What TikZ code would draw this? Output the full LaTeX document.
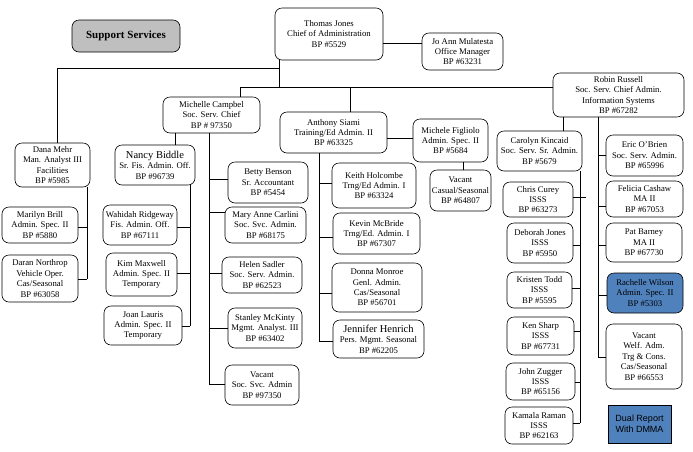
\documentclass[tikz,border=0pt]{standalone}
\usepackage{fontspec}
\setmainfont{Liberation Serif}
\newfontfamily\dualfont{Liberation Sans}
\definecolor{boxblue}{RGB}{79,129,189}
\definecolor{boxgray}{RGB}{191,191,191}
\newcommand{\orgbox}[7][]{%
  \pgfmathsetmacro\orgw{#5-#3}%
  \pgfmathsetmacro\orgh{#6-#4}%
  \pgfmathsetmacro\orgcx{(#3+#5)/2}%
  \pgfmathsetmacro\orgcy{(#4+#6)/2}%
  \node[box,minimum width=\orgw pt,minimum height=\orgh pt,#1] (#2) at (\orgcx,\orgcy) {#7};%
}
\newcommand{\bigname}[1]{{\fontsize{10.5}{12}\selectfont #1}}
\begin{document}
\begin{tikzpicture}[x=1pt,y=-1pt,
  box/.style={draw=black,line width=0.6pt,rounded corners=7pt,align=center,inner sep=0pt,
    font=\fontsize{8.7}{10.4}\selectfont},
  conn/.style={draw=black,line width=0.8pt},
  bluebox/.style={fill=boxblue},
  ]
\useasboundingbox (0,0) rectangle (693,451);
% top
\orgbox[fill=boxgray,font=\bfseries\fontsize{11}{13}\selectfont]{ss}{72}{20}{180}{52}{Support Services}
\orgbox{tj}{275}{8}{383}{60}{Thomas Jones\\Chief of Administration\\BP \#5529}
\orgbox{jo}{422}{33}{503}{70}{Jo Ann Mulatesta\\Office Manager\\BP \#63231}
\orgbox{rr}{553}{73}{684}{117}{Robin Russell\\Soc. Serv. Chief Admin.\\Information Systems\\BP \#67282}
% left branch
\orgbox{dm}{15}{143}{90}{187}{Dana Mehr\\Man. Analyst III\\Facilities\\BP \#5985}
\orgbox{mb}{2}{207}{78}{243}{Marilyn Brill\\Admin. Spec. II\\BP \#5880}
\orgbox{dn}{2}{255}{78}{302}{Daran Northrop\\Vehicle Oper.\\Cas/Seasonal\\BP \#63058}
% Michelle
\orgbox{mc}{163}{97}{260}{133}{Michelle Campbel\\Soc. Serv. Chief\\BP \# 97350}
\orgbox{nb}{115}{145}{195}{185}{\bigname{Nancy Biddle}\\Sr. Fis. Admin. Off.\\BP \#96739}
\orgbox{wr}{103}{205}{177}{245}{Wahidah Ridgeway\\Fis. Admin. Off.\\BP \#67111}
\orgbox{km}{106}{253}{177}{296}{Kim Maxwell\\Admin. Spec. II\\Temporary}
\orgbox{jl}{104}{306}{182}{345}{Joan Lauris\\Admin. Spec. II\\Temporary}
\orgbox{bb}{228}{162}{308}{203}{Betty Benson\\Sr. Accountant\\BP \#5454}
\orgbox{ma}{225}{207}{306}{243}{Mary Anne Carlini\\Soc. Svc. Admin.\\BP \#68175}
\orgbox{hs}{222}{257}{302}{293}{Helen Sadler\\Soc. Serv. Admin.\\BP \#62523}
\orgbox{sm}{228}{308}{302}{348}{Stanley McKinty\\Mgmt. Analyst. III\\BP \#63402}
\orgbox{v1}{225}{365}{299}{405}{Vacant\\Soc. Svc. Admin\\BP \#97350}
% Anthony
\orgbox{at}{280}{112}{387}{153}{Anthony Siami\\Training/Ed Admin. II\\BP \#63325}
\orgbox{kh}{332}{163}{416}{208}{Keith Holcombe\\Trng/Ed Admin. I\\BP \#63324}
\orgbox{kb}{333}{213}{420}{254}{Kevin McBride\\Trng/Ed. Admin. I\\BP \#67307}
\orgbox{dmo}{332}{263}{422}{312}{Donna Monroe\\Genl. Admin.\\Cas/Seasonal\\BP \#56701}
\orgbox{jh}{333}{320}{424}{358}{\bigname{Jennifer Henrich}\\Pers. Mgmt. Seasonal\\BP \#62205}
\orgbox{mf}{413}{119}{488}{162}{Michele Figliolo\\Admin. Spec. II\\BP \#5684}
\orgbox{v2}{430}{170}{491}{211}{Vacant\\Casual/Seasonal\\BP \#64807}
% Robin
\orgbox{ck}{497}{131}{582}{171}{Carolyn Kincaid\\Soc. Serv. Sr. Admin.\\BP \#5679}
\orgbox{cc}{503}{182}{573}{217}{Chris Curey\\ISSS\\BP \#63273}
\orgbox{dj}{507}{223}{573}{263}{Deborah Jones\\ISSS\\BP \#5950}
\orgbox{kt}{507}{272}{572}{308}{Kristen Todd\\ISSS\\BP \#5595}
\orgbox{ks}{507}{317}{574}{355}{Ken Sharp\\ISSS\\BP \#67731}
\orgbox{jz}{506}{363}{575}{400}{John Zugger\\ISSS\\BP \#65156}
\orgbox{kr}{505}{407}{573}{444}{Kamala Raman\\ISSS\\BP \#62163}
\orgbox{eo}{606}{135}{683}{176}{Eric O'Brien\\Soc. Serv. Admin.\\BP \#65996}
\orgbox{fc}{606}{181}{683}{217}{Felicia Cashaw\\MA II\\BP \#67053}
\orgbox{pb}{606}{223}{682}{262}{Pat Barney\\MA II\\BP \#67730}
\orgbox[bluebox]{rw}{607}{273}{683}{313}{Rachelle Wilson\\Admin. Spec. II\\BP \#5303}
\orgbox{v3}{606}{324}{682}{389}{Vacant\\Welf. Adm.\\Trg \& Cons.\\Cas/Seasonal\\BP \#66553}
\orgbox[bluebox,rounded corners=0pt,font=\dualfont\fontsize{9}{11}\selectfont]{du}{608}{405}{671}{443}{Dual Report\\With DMMA}
% connectors: top level
\draw[conn] (tj.east |- 0,43) -- (jo.west |- 0,43);
\draw[conn] (tj.south -| 279,0) -- (279,87.5);
\draw[conn] (279,68) -| (dm.north -| 57,0);
\draw[conn] (240,87.5) -- (rr.west |- 0,87.5);
\draw[conn] (240,87.5) -- (mc.north -| 240,0);
\draw[conn] (350,87.5) -- (at.north -| 350,0);
% Dana
\draw[conn] (dm.south -| 87,0) -- (87,279);
\draw[conn] (mb.east |- 0,227) -- (87,227);
\draw[conn] (dn.east |- 0,279) -- (87,279);
% Michelle -> Nancy
\draw[conn] (mc.south -| 175,0) -- (nb.north -| 175,0);
\draw[conn] (nb.south -| 190,0) -- (190,326);
\draw[conn] (wr.east |- 0,227) -- (190,227);
\draw[conn] (km.east |- 0,273) -- (190,273);
\draw[conn] (jl.east |- 0,326) -- (190,326);
% Michelle -> staff
\draw[conn] (mc.south -| 209,0) -- (209,384);
\draw[conn] (209,179) -- (bb.west |- 0,179);
\draw[conn] (209,212) -- (ma.west |- 0,212);
\draw[conn] (209,273) -- (hs.west |- 0,273);
\draw[conn] (209,328) -- (sm.west |- 0,328);
\draw[conn] (209,384) -- (v1.west |- 0,384);
% Anthony
\draw[conn] (at.south -| 319,0) -- (319,341);
\draw[conn] (319,183) -- (kh.west |- 0,183);
\draw[conn] (319,237) -- (kb.west |- 0,237);
\draw[conn] (319,293) -- (dmo.west |- 0,293);
\draw[conn] (319,341) -- (jh.west |- 0,341);
\draw[conn] (at.east |- 0,138) -- (mf.west |- 0,138);
\draw[conn] (mf.south -| 463,0) -- (v2.north -| 463,0);
% Robin
\draw[conn] (rr.south -| 563,0) -- (ck.north -| 563,0);
\draw[conn] (rr.south -| 598,0) -- (598,357);
\draw[conn] (598,155) -- (eo.west |- 0,155);
\draw[conn] (598,206) -- (fc.west |- 0,206);
\draw[conn] (598,245) -- (pb.west |- 0,245);
\draw[conn] (598,295) -- (rw.west |- 0,295);
\draw[conn] (598,357) -- (v3.west |- 0,357);
% Carolyn
\draw[conn] (ck.south -| 580,0) -- (580,423);
\draw[conn] (cc.east |- 0,197) -- (586,197);
\draw[conn] (dj.east |- 0,245) -- (580,245);
\draw[conn] (kt.east |- 0,288) -- (580,288);
\draw[conn] (ks.east |- 0,331) -- (580,331);
\draw[conn] (jz.east |- 0,382) -- (580,382);
\draw[conn] (kr.east |- 0,423) -- (580,423);
\end{tikzpicture}
\end{document}
